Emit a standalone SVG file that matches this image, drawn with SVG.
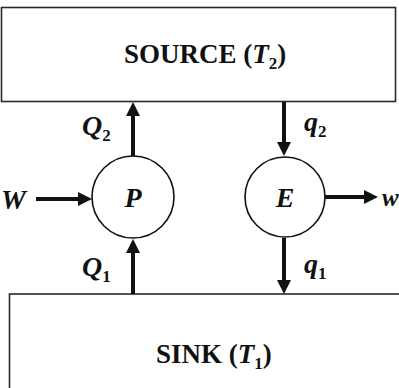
<svg xmlns="http://www.w3.org/2000/svg" width="399" height="388" viewBox="0 0 399 388">
<style>
.box{fill:#fff;stroke:#2a2a2a;stroke-width:1.6}
.node{fill:#fff;stroke:#111;stroke-width:1.6}
.arr{stroke:#111;stroke-width:4;fill:none}
.t{font-family:"Liberation Serif",serif;font-weight:bold;fill:#111}
.big{font-size:27px}
.lab{font-size:28px}
.it{font-style:italic}
.sub{font-size:17px}
</style>
<defs>
<marker id="ah" markerUnits="userSpaceOnUse" markerWidth="14" markerHeight="14" viewBox="0 0 14 14" refX="1" refY="7" orient="auto">
<path d="M0,0 L14,7 L0,14 z" fill="#111"/>
</marker>
</defs>
<g id="source">
<rect class="box" x="1.5" y="7.5" width="394" height="94"/>
<text class="t big" x="124" y="63">SOURCE (<tspan class="it">T</tspan><tspan class="sub" dy="6">2</tspan><tspan dy="-6">)</tspan></text>
</g>
<g id="sink">
<rect class="box" x="9.5" y="294" width="400" height="110"/>
<text class="t big" x="156" y="363">SINK (<tspan class="it">T</tspan><tspan class="sub" dy="6">1</tspan><tspan dy="-6">)</tspan></text>
</g>
<g id="P">
<circle class="node" cx="133" cy="197" r="41"/>
<text class="t lab it" x="133" y="207" text-anchor="middle">P</text>
</g>
<g id="E">
<circle class="node" cx="285" cy="197" r="40"/>
<text class="t lab it" x="285" y="207" text-anchor="middle">E</text>
</g>
<g id="connectors">
<line class="arr" x1="133" y1="156" x2="133" y2="115" marker-end="url(#ah)"/>
<line class="arr" x1="284" y1="102" x2="284" y2="143" marker-end="url(#ah)"/>
<line class="arr" x1="36" y1="199" x2="79" y2="199" marker-end="url(#ah)"/>
<line class="arr" x1="325" y1="197" x2="365" y2="197" marker-end="url(#ah)"/>
<line class="arr" x1="133" y1="294" x2="133" y2="252" marker-end="url(#ah)"/>
<line class="arr" x1="284" y1="238" x2="284" y2="281" marker-end="url(#ah)"/>
</g>
<g id="labels">
<text class="t lab it" x="1" y="209">W</text>
<text class="t it" style="font-size:25px" x="382" y="206">w</text>
<text class="t lab" x="82" y="135"><tspan class="it">Q</tspan><tspan class="sub" dy="6">2</tspan></text>
<text class="t lab" x="304" y="131"><tspan class="it">q</tspan><tspan class="sub" dy="6">2</tspan></text>
<text class="t lab" x="82" y="276"><tspan class="it">Q</tspan><tspan class="sub" dy="6">1</tspan></text>
<text class="t lab" x="304" y="273"><tspan class="it">q</tspan><tspan class="sub" dy="6">1</tspan></text>
</g>
</svg>
